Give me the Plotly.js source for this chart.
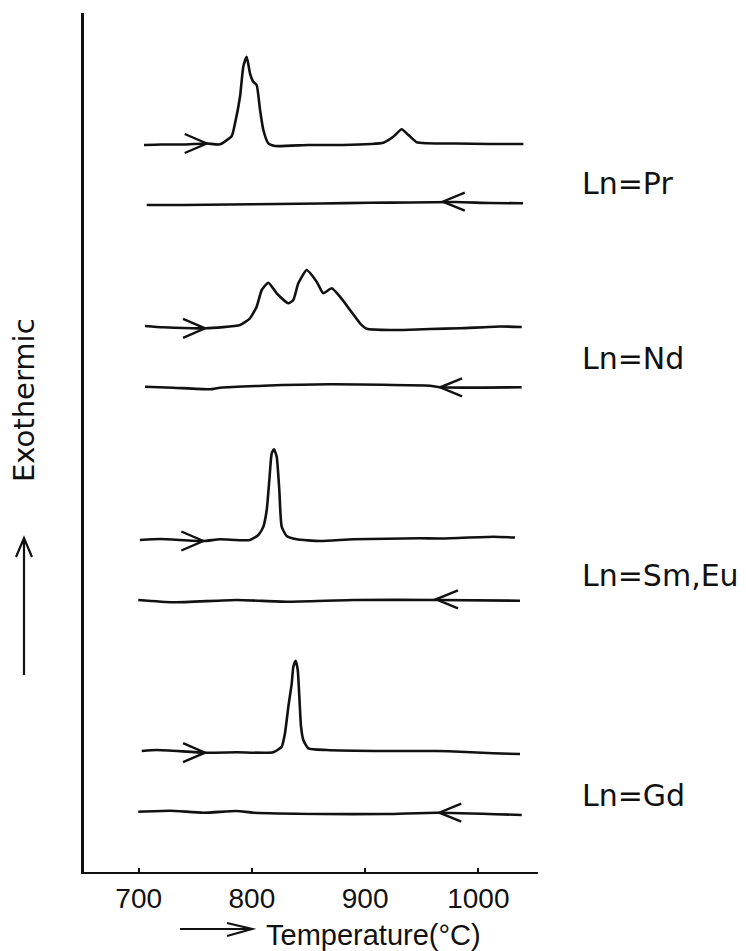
<!DOCTYPE html>
<html><head><meta charset="utf-8">
<script src="https://cdn.plot.ly/plotly-3.0.1.min.js"></script>
<style>html,body{margin:0;padding:0;background:#fff}</style>
</head><body><div id="chart" style="width:746px;height:951px"></div>
<script>
// ---- data (temperature in °C, signal in arbitrary units) ----
const xTicks = [700, 800, 900, 1000];

const prHeatT = [704.7, 720, 740, 760.1, 771.8, 782.2, 785.1, 789.5, 792.4, 795.4, 798.3, 801.2, 804.2, 807.2, 810.1, 814.5, 820.4, 850, 880, 905, 916.1, 924.9, 932.3, 938.2, 945.6, 954.4, 980, 1010, 1039.8];
const prHeatV = [727, 727.5, 727.5, 728.5, 727.7, 736, 748.7, 775.3, 805.3, 815.3, 798.7, 790.3, 787, 762, 742, 728.7, 726, 727, 727, 728, 729.3, 735.3, 742.7, 737, 729.7, 728.7, 728.5, 728, 728];
const prCoolT = [707.1, 740, 780, 821.9, 860, 904.3, 940, 980, 1010, 1039.5];
const prCoolV = [667, 667, 667.5, 668, 668.5, 669.3, 669.5, 670, 669, 668.7];

const ndHeatT = [705.6, 721.7, 758.6, 789.5, 798.3, 804.2, 808.7, 814.5, 821.9, 832.2, 836.6, 841, 848.4, 857.2, 863.1, 870.5, 877.8, 886.7, 895.5, 901.4, 924.9, 933.7, 957.3, 983.8, 1019.2, 1038.3];
const ndHeatV = [546, 544.7, 543.7, 547, 553.7, 565.3, 582, 589.3, 578.7, 568.7, 572, 588.7, 602, 590.3, 578.7, 583.7, 575.3, 562, 548.7, 543.3, 542, 542, 543, 543.7, 545.5, 545];
const ndCoolT = [705.6, 730.6, 763, 771.8, 810.1, 869, 957.3, 966.2, 1038.3];
const ndCoolV = [485.3, 484.3, 482.7, 484.3, 486.3, 487.7, 486.3, 484.7, 484.7];

const smHeatT = [701.1, 718.8, 757.1, 771.8, 798.3, 805.7, 810.1, 813.1, 815.4, 817.5, 819.5, 821.9, 824.2, 826.3, 830.7, 839.6, 860.2, 889.6, 948.5, 966.2, 1013.3, 1032.4];
const smHeatV = [332, 333, 331, 332.7, 332, 337, 345.3, 362, 392, 418.7, 422.7, 415.3, 382, 345.3, 336, 332.7, 331, 332.7, 333.7, 333.5, 335.3, 334.5];
const smCoolT = [699.6, 730.6, 786.6, 830.7, 889.6, 963.3, 1036.8];
const smCoolV = [272, 269.7, 272, 270.3, 272, 272, 271.3];

const gdHeatT = [702.7, 715.9, 758.6, 786.6, 818.9, 826.3, 829.2, 832.2, 835.2, 836.6, 838.7, 840.5, 841.9, 843.4, 845.4, 849.8, 866.1, 919.1, 963.3, 983.8, 1013.3, 1036.8];
const gdHeatV = [121, 122, 119.3, 119.7, 119.7, 125.3, 138.7, 165.3, 188.7, 205.3, 211.3, 202, 175.3, 145.3, 132, 123.7, 122, 121, 121, 120.3, 118.7, 118];
const gdCoolT = [699.6, 727.7, 757.1, 786.6, 801.2, 860.2, 919.1, 963.3, 1038.3];
const gdCoolV = [60.3, 61.3, 59.3, 61, 59.3, 58, 58, 59.3, 57];

const sampleLabels = ['Ln=Pr', 'Ln=Nd', 'Ln=Sm,Eu', 'Ln=Gd'];
const labelV = [689, 514, 297, 77];

const heatArrowT = [760.1, 758.6, 757.1, 758.6];
const heatArrowV = [728.5, 543.7, 331, 119.3];
const coolArrowT = [968.6, 966.2, 962.6, 965.5];
const coolArrowV = [670.3, 484.7, 272.7, 59.3];

// ---- build ----
const ink = '#111';
const curves = [
  [prHeatT, prHeatV], [prCoolT, prCoolV],
  [ndHeatT, ndHeatV], [ndCoolT, ndCoolV],
  [smHeatT, smHeatV], [smCoolT, smCoolV],
  [gdHeatT, gdHeatV], [gdCoolT, gdCoolV]
];
const traces = curves.map(c => ({
  x: c[0], y: c[1], type: 'scatter', mode: 'lines',
  line: {color: ink, width: 2.6, shape: 'spline', smoothing: 0.5},
  hoverinfo: 'skip'
}));

const shapes = [];
heatArrowT.forEach((t, i) => shapes.push({
  type: 'path', xref: 'x', yref: 'y', xsizemode: 'pixel', ysizemode: 'pixel',
  xanchor: t, yanchor: heatArrowV[i], path: 'M-22,9.5 L0,0 L-22,-9.5',
  line: {color: ink, width: 2.4}
}));
coolArrowT.forEach((t, i) => shapes.push({
  type: 'path', xref: 'x', yref: 'y', xsizemode: 'pixel', ysizemode: 'pixel',
  xanchor: t, yanchor: coolArrowV[i], path: 'M22,9 L0,0 L22,-9',
  line: {color: ink, width: 2.4}
}));
// vertical "exothermic" arrow at the left
shapes.push({
  type: 'path', xref: 'paper', yref: 'paper', xsizemode: 'pixel', ysizemode: 'pixel',
  xanchor: 0, yanchor: 0, path: 'M-60,197 L-60,334 M-68,315 L-60,334 L-52,315',
  line: {color: ink, width: 2.2}
});
// horizontal arrow before x-axis title
shapes.push({
  type: 'path', xref: 'paper', yref: 'paper', xsizemode: 'pixel', ysizemode: 'pixel',
  xanchor: 0, yanchor: 0, path: 'M96,-57 L168,-57 M143,-51 L168,-57 L143,-64',
  line: {color: ink, width: 2.2}
});

const annotations = sampleLabels.map((s, i) => ({
  text: s, xref: 'paper', yref: 'y', x: 1, y: labelV[i], xanchor: 'left', yanchor: 'middle',
  xshift: 42, showarrow: false, font: {family: 'DejaVu Sans', size: 30, color: ink}
}));
annotations.push({
  text: 'Exothermic', xref: 'paper', yref: 'paper', x: 0, y: 0.5495, xanchor: 'center', yanchor: 'middle',
  xshift: -60, textangle: -90, showarrow: false, font: {family: 'DejaVu Sans', size: 29, color: ink}
});
annotations.push({
  text: 'Temperature(°C)', xref: 'paper', yref: 'paper', x: 0, y: 0, xanchor: 'left', yanchor: 'middle',
  xshift: 180, yshift: -63, showarrow: false, font: {family: 'Liberation Sans, Arial, sans-serif', size: 29, color: ink}
});

const layout = {
  width: 746, height: 951,
  margin: {l: 84, r: 208, t: 13, b: 79},
  paper_bgcolor: '#fff', plot_bgcolor: '#fff',
  showlegend: false,
  xaxis: {
    range: [651.7, 1052.7], showgrid: false, zeroline: false,
    showline: true, linewidth: 2.4, linecolor: ink,
    ticks: 'inside', ticklen: 4, tickwidth: 2, tickcolor: ink,
    tickvals: xTicks, ticktext: xTicks.map(String),
    tickfont: {family: 'Liberation Sans, Arial, sans-serif', size: 28, color: ink}
  },
  yaxis: {
    range: [0, 859], showgrid: false, zeroline: false,
    showline: true, linewidth: 3, linecolor: ink,
    showticklabels: false, ticks: ''
  },
  shapes: shapes,
  annotations: annotations
};

Plotly.newPlot('chart', traces, layout, {displayModeBar: false, staticPlot: true});
</script>
</body></html>
